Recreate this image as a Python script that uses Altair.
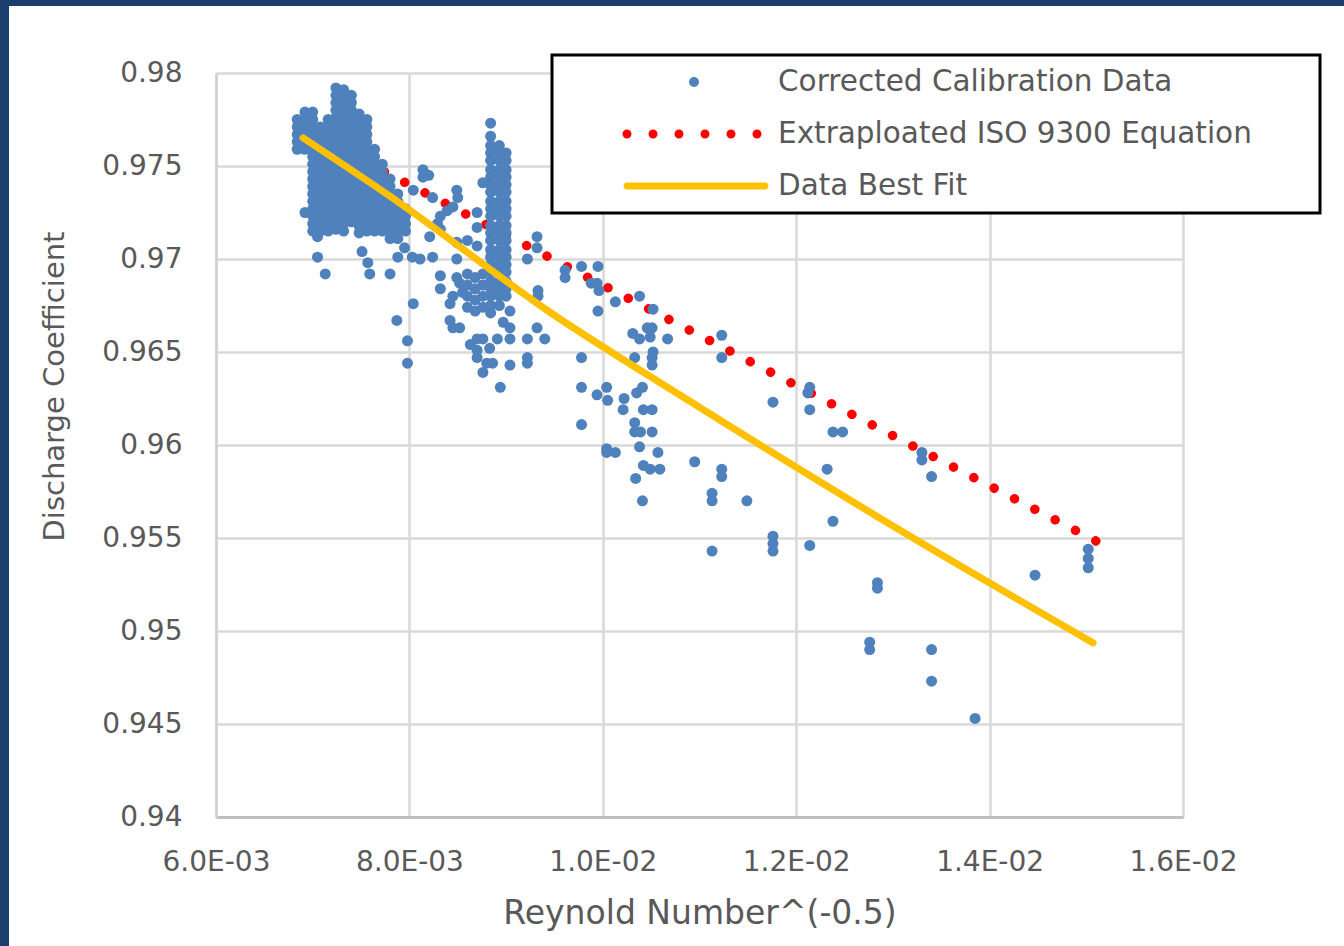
import altair as alt
import pandas as pd

X_TICKS = [0.006, 0.008, 0.010, 0.012, 0.014, 0.016]
Y_TICKS = [0.94, 0.945, 0.95, 0.955, 0.96, 0.965, 0.97, 0.975, 0.98]
SERIES = ["Corrected Calibration Data", "Extraploated ISO 9300 Equation", "Data Best Fit"]
COLORS = ["#4f81bd", "#ff0000", "#ffc000"]
NAVY = "#1b3f6d"
GREY = "#595959"
FONT = "DejaVu Sans"

# dense columns of calibration points (x value, list of y values)
DENSE_COL_X = [0.00684, 0.00692, 0.00700, 0.00708, 0.00716, 0.00724, 0.00732, 0.00740,
               0.00748, 0.00756, 0.00764, 0.00772, 0.00780, 0.00788, 0.00796,
               0.00860, 0.00868, 0.00876, 0.00884, 0.00893, 0.00900]
DENSE_COL_Y = [
    [0.9775, 0.9771, 0.9767, 0.9763, 0.9759],
    [0.9779, 0.9775, 0.9771, 0.9767, 0.9763, 0.9759, 0.9725],
    [0.9779, 0.9775, 0.9771, 0.9767, 0.9763, 0.9759, 0.9755, 0.9751, 0.9747, 0.9743, 0.9739,
     0.9735, 0.9731, 0.9727, 0.9723, 0.9719, 0.9715],
    [0.9771, 0.9767, 0.9763, 0.9759, 0.9755, 0.9751, 0.9747, 0.9743, 0.9739, 0.9735, 0.9731,
     0.9727, 0.9723, 0.9719, 0.9715],
    [0.9775, 0.9771, 0.9767, 0.9763, 0.9759, 0.9755, 0.9751, 0.9747, 0.9743, 0.9739, 0.9735,
     0.9731, 0.9727, 0.9723, 0.9719, 0.9715],
    [0.9792, 0.9788, 0.9784, 0.9780, 0.9776, 0.9772, 0.9768, 0.9764, 0.9760, 0.9756, 0.9752,
     0.9748, 0.9744, 0.9740, 0.9736, 0.9732, 0.9728, 0.9724, 0.9720, 0.9716],
    [0.9791, 0.9787, 0.9783, 0.9779, 0.9775, 0.9771, 0.9767, 0.9763, 0.9759, 0.9755, 0.9751,
     0.9747, 0.9743, 0.9739, 0.9735, 0.9731, 0.9727, 0.9723, 0.9719, 0.9715],
    [0.9788, 0.9784, 0.9780, 0.9776, 0.9772, 0.9768, 0.9764, 0.9760, 0.9756, 0.9752, 0.9748,
     0.9744, 0.9740, 0.9736, 0.9732, 0.9728, 0.9724, 0.9720],
    [0.9778, 0.9774, 0.9770, 0.9766, 0.9762, 0.9758, 0.9754, 0.9750, 0.9746, 0.9742, 0.9738,
     0.9734, 0.9730, 0.9726, 0.9722, 0.9718, 0.9714],
    [0.9775, 0.9771, 0.9767, 0.9763, 0.9759, 0.9755, 0.9751, 0.9747, 0.9743, 0.9739, 0.9735,
     0.9731, 0.9727, 0.9723, 0.9719, 0.9715],
    [0.9759, 0.9755, 0.9751, 0.9747, 0.9743, 0.9739, 0.9735, 0.9731, 0.9727, 0.9723, 0.9719, 0.9715],
    [0.9751, 0.9747, 0.9743, 0.9739, 0.9735, 0.9731, 0.9727, 0.9723, 0.9719, 0.9715],
    [0.9743, 0.9739, 0.9735, 0.9731, 0.9727, 0.9723, 0.9719, 0.9715, 0.9711],
    [0.9735, 0.9731, 0.9727, 0.9723, 0.9719, 0.9715, 0.9711],
    [0.9727, 0.9723, 0.9719, 0.9715],
    [0.9692, 0.9686, 0.9680, 0.9674],
    [0.9690, 0.9684, 0.9678, 0.9672],
    [0.9692, 0.9686, 0.9680, 0.9674],
    [0.9773, 0.9766, 0.9761, 0.9757, 0.9753, 0.9748, 0.9744, 0.9740, 0.9736, 0.9731, 0.9727,
     0.9723, 0.9718, 0.9714, 0.9710, 0.9705, 0.9701, 0.9697, 0.9693, 0.9688, 0.9684, 0.9680,
     0.9675, 0.9671],
    [0.9761, 0.9757, 0.9753, 0.9748, 0.9744, 0.9740, 0.9736, 0.9731, 0.9727, 0.9723, 0.9718,
     0.9714, 0.9710, 0.9705, 0.9701, 0.9697, 0.9693, 0.9688, 0.9684, 0.9680, 0.9675],
    [0.9757, 0.9753, 0.9748, 0.9744, 0.9740, 0.9736, 0.9731, 0.9727, 0.9723, 0.9718, 0.9714,
     0.9710, 0.9705, 0.9701, 0.9697, 0.9693, 0.9688, 0.9684, 0.9680],
]

# scattered calibration points, low Re^-0.5 region
LEFT_X = [0.00705, 0.00705, 0.00713, 0.00751, 0.00757, 0.00759, 0.00780, 0.00788, 0.00795,
          0.00803, 0.00804, 0.00787, 0.00798, 0.00798, 0.00811,
          0.00814, 0.00814, 0.00820, 0.00804, 0.00824, 0.00849, 0.00850, 0.00845, 0.00839,
          0.00832, 0.00829, 0.00832, 0.00821, 0.00824, 0.00849, 0.00832, 0.00849, 0.00852,
          0.00832, 0.00845, 0.00842, 0.00855, 0.00842, 0.00845, 0.00852, 0.00860, 0.00849,
          0.00870, 0.00870, 0.00870, 0.00876]
LEFT_Y = [0.9712, 0.9701, 0.9692, 0.9704, 0.9698, 0.9692, 0.9692, 0.9701, 0.9706,
          0.9701, 0.9676, 0.9667, 0.9656, 0.9644, 0.9700,
          0.9748, 0.9744, 0.9745, 0.9737, 0.9733, 0.9737, 0.9733, 0.9728, 0.9726,
          0.9723, 0.9719, 0.9716, 0.9712, 0.9701, 0.9700, 0.9691, 0.9690, 0.9687,
          0.9684, 0.9680, 0.9676, 0.9682, 0.9667, 0.9663, 0.9663, 0.9710, 0.9709,
          0.9707, 0.9725, 0.9717, 0.9741]

# scattered calibration points, middle region
MID_X = [0.00876, 0.00891, 0.00904, 0.00870, 0.00870, 0.00880, 0.00886, 0.00876, 0.00904,
         0.00897, 0.00904, 0.00904, 0.00922, 0.00940, 0.00922, 0.00922, 0.00894, 0.00863,
         0.00883, 0.00870,
         0.00932, 0.00932, 0.00933, 0.00933, 0.00932, 0.00922,
         0.00961, 0.00961, 0.00978, 0.00995, 0.00988, 0.00994, 0.00996, 0.01013, 0.00995,
         0.00978, 0.00978, 0.01004, 0.00994, 0.01005, 0.01022, 0.01035, 0.01041, 0.01021,
         0.00978, 0.01033, 0.01033, 0.01039, 0.01051, 0.01042, 0.01051, 0.01038, 0.01004,
         0.01004, 0.01013, 0.01057, 0.01042, 0.01034, 0.01049, 0.01059, 0.01041,
         0.01038, 0.01052, 0.01051, 0.01046, 0.01031, 0.01038, 0.01049, 0.01033, 0.01051,
         0.01051, 0.01067, 0.01052]
MID_Y = [0.9657, 0.9657, 0.9657, 0.9651, 0.9647, 0.9644, 0.9644, 0.9639, 0.9643,
         0.9666, 0.9672, 0.9663, 0.9657, 0.9657, 0.9647, 0.9644, 0.9631, 0.9654,
         0.9652, 0.9657,
         0.9712, 0.9706, 0.9683, 0.9680, 0.9663, 0.9700,
         0.9694, 0.9690, 0.9696, 0.9696, 0.9687, 0.9687, 0.9683, 0.9677, 0.9672,
         0.9647, 0.9631, 0.9631, 0.9627, 0.9624, 0.9625, 0.9628, 0.9631, 0.9619,
         0.9611, 0.9612, 0.9607, 0.9607, 0.9607, 0.9619, 0.9619, 0.9599, 0.9598,
         0.9596, 0.9596, 0.9596, 0.9589, 0.9582, 0.9587, 0.9587, 0.9570,
         0.9680, 0.9673, 0.9663, 0.9663, 0.9660, 0.9657, 0.9658, 0.9647, 0.9647,
         0.9643, 0.9657, 0.9650]

# scattered calibration points, high Re^-0.5 region
RIGHT_X = [0.01123, 0.01123, 0.01095, 0.01123, 0.01123, 0.01113, 0.01113, 0.01149, 0.01113,
           0.01176, 0.01176, 0.01176, 0.01176, 0.01214, 0.01212, 0.01214, 0.01238, 0.01248,
           0.01232, 0.01238, 0.01214, 0.01330, 0.01330, 0.01340, 0.01284, 0.01284, 0.01276,
           0.01276, 0.01340, 0.01340, 0.01385, 0.01447, 0.01502, 0.01502, 0.01502]
RIGHT_Y = [0.9659, 0.9647, 0.9591, 0.9587, 0.9583, 0.9574, 0.9570, 0.9570, 0.9543,
           0.9623, 0.9551, 0.9547, 0.9543, 0.9631, 0.9628, 0.9619, 0.9607, 0.9607,
           0.9587, 0.9559, 0.9546, 0.9596, 0.9592, 0.9583, 0.9526, 0.9523, 0.9494,
           0.9490, 0.9490, 0.9473, 0.9453, 0.9530, 0.9544, 0.9539, 0.9534]

ISO_X = [0.0069, 0.0151]
ISO_Y = [0.97696, 0.95484]

FIT_X = [0.0069, 0.0079, 0.00945, 0.01083, 0.01307, 0.01507]
FIT_Y = [0.97651, 0.97301, 0.96715, 0.96258, 0.95543, 0.94936]

rows = []
for cx, ys in zip(DENSE_COL_X, DENSE_COL_Y):
    for yv in ys:
        rows.append({"x": cx, "y": yv, "series": SERIES[0]})
for xs, ys in ((LEFT_X, LEFT_Y), (MID_X, MID_Y), (RIGHT_X, RIGHT_Y)):
    for xv, yv in zip(xs, ys):
        rows.append({"x": xv, "y": yv, "series": SERIES[0]})
cal_df = pd.DataFrame(rows)
iso_df = pd.DataFrame({"x": ISO_X, "y": ISO_Y, "series": SERIES[1]})
fit_df = pd.DataFrame({"x": FIT_X, "y": FIT_Y, "series": SERIES[2]})

x_axis = alt.Axis(
    values=X_TICKS,
    labelExpr="replace(replace(format(datum.value, '.1e'), 'e-3', 'E-03'), 'e-2', 'E-02')",
    title="Reynold Number^(-0.5)", grid=True, ticks=False, tickSize=0,
    domainColor="#bfbfbf", domainWidth=3, gridColor="#d9d9d9", gridWidth=2.5,
    labelFont=FONT, labelFontSize=28, labelColor=GREY, labelPadding=31,
    labelFlush=False, labelOverlap=False,
    titleFont=FONT, titleFontSize=33, titleColor=GREY, titleFontWeight="normal",
    titleX=483.5, titleY=96, titleBaseline="middle", titleAlign="center",
)
y_axis = alt.Axis(
    values=Y_TICKS, labelExpr="format(datum.value, '.3~f')",
    title="Discharge Coefficient", grid=True, ticks=False, tickSize=0,
    domainColor="#d0d0d0", domainWidth=2.5, gridColor="#d9d9d9", gridWidth=2.5,
    labelFont=FONT, labelFontSize=28, labelColor=GREY, labelPadding=34,
    labelOverlap=False,
    titleFont=FONT, titleFontSize=29, titleColor=GREY, titleFontWeight="normal",
    titleX=-162, titleY=313, titleAngle=270, titleBaseline="middle", titleAlign="center",
)

# legend symbol glyphs (unit path coordinates, scaled by 15 px for size 900)
def circle_path(cx, r):
    return (f"M{cx - r:.3f},0A{r},{r} 0 1,0 {cx + r:.3f},0"
            f"A{r},{r} 0 1,0 {cx - r:.3f},0Z")

DOT_PATH = circle_path(0, 0.33)
RED_PATH = "".join(circle_path(c, 0.3) for c in (-4.467, -2.733, -1.0, 0.733, 2.467, 4.2))
YEL_PATH = "M-4.467,-0.233H4.733A0.233,0.233 0 0,1 4.733,0.233H-4.467A0.233,0.233 0 0,1 -4.467,-0.233Z"
is_dot = "datum.value === '" + SERIES[0] + "'"
is_iso = "datum.value === '" + SERIES[1] + "'"

legend = alt.Legend(
    title=" ", titleOrient="right", titlePadding=56, titleFontSize=1,
    orient="none", legendX=336, legendY=-18,
    padding=12, rowPadding=22,
    strokeColor="black", fillColor="white",
    symbolSize=900, symbolOffset=115, labelOffset=69, symbolOpacity=1,
    symbolStrokeWidth=0,
    symbolType={"expr": f"{is_dot} ? '{DOT_PATH}' : ({is_iso} ? '{RED_PATH}' : '{YEL_PATH}')"},
    symbolFillColor={"expr": f"{is_dot} ? '{COLORS[0]}' : ({is_iso} ? '{COLORS[1]}' : '{COLORS[2]}')"},
    symbolStrokeColor="transparent",
    labelFont=FONT, labelFontSize=29.5, labelColor=GREY, labelLimit=0,
)

xenc = alt.X("x:Q", scale=alt.Scale(domain=[0.006, 0.016], nice=False, zero=False), axis=x_axis)
yenc = alt.Y("y:Q", scale=alt.Scale(domain=[0.94, 0.98], nice=False, zero=False), axis=y_axis)
cenc = alt.Color("series:N", scale=alt.Scale(domain=SERIES, range=COLORS), legend=legend)

iso_layer = alt.Chart(iso_df).mark_line(
    strokeWidth=9.5, strokeCap="round", strokeDash=[0.1, 22.8]
).encode(x=xenc, y=yenc, color=cenc)

pts_layer = alt.Chart(cal_df).mark_circle(size=121, opacity=1).encode(x=xenc, y=yenc, color=cenc)

fit_layer = alt.Chart(fit_df).mark_line(
    strokeWidth=7, strokeCap="round", interpolate="monotone"
).encode(x=xenc, y=yenc, color=cenc)

frame_data = alt.Data(values=[{"k": 1}])
left_strip = alt.Chart(frame_data).mark_rect(color=NAVY).encode(
    x=alt.value(-216), x2=alt.value(-207), y=alt.value(-73), y2=alt.value(873))
top_strip = alt.Chart(frame_data).mark_rect(color=NAVY).encode(
    x=alt.value(-216), x2=alt.value(1128), y=alt.value(-73), y2=alt.value(-67))

chart = alt.layer(iso_layer, pts_layer, fit_layer, left_strip, top_strip).properties(
    width=967, height=744,
    autosize=alt.AutoSizeParams(type="none"),
    padding={"left": 216, "top": 73, "right": 161, "bottom": 129},
    background="white",
).configure_view(stroke="transparent").configure_legend(strokeWidth=3)

chart.save("out.html", embed_options={"renderer": "svg", "actions": False})
